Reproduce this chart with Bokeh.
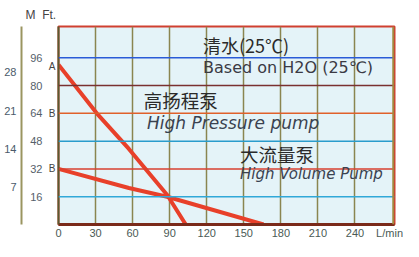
from bokeh.plotting import figure
from bokeh.models import Range1d, LinearAxis, FixedTicker, Label, Span
from bokeh.embed import file_html
from bokeh.resources import INLINE

# ---- data ----
flow_ticks = [0, 30, 60, 90, 120, 150, 180, 210, 240]
unit_tick = 268
ft_ticks = [16, 32, 48, 64, 80, 96]
m_ticks = [7, 14, 21, 28]
curve_start_ticks = [91, 64, 32]
curve_start_labels = ["A", "B", "B"]

hp_flow = [0, 31, 57, 88, 103]          # High Pressure pump (A)
hp_head = [92, 64, 43.5, 17, 0]
hv_flow = [0, 57, 88, 166]              # High Volume pump (B)
hv_head = [32, 21, 16, 0]

band_colors = ["#30a8d8", "#d84030", "#2a9ccc", "#e0602a", "#7a3030", "#2a5bd7"]

FONT = "Liberation Sans"
WIDE = "DejaVu Sans"
CJK = "Noto Sans CJK SC"

p = figure(width=403, height=241, x_range=Range1d(0, 272), y_range=Range1d(0, 114),
           output_backend="svg", toolbar_location=None,
           min_border_left=58, min_border_top=15, min_border_right=9, min_border_bottom=0)
p.background_fill_color = "#e4f3f8"
p.border_fill_color = "white"
p.outline_line_color = "#d04030"
p.outline_line_width = 2

p.title.text = "M\u00a0\u00a0Ft."
p.title.align = "left"
p.title.offset = -33
p.title.text_font = FONT
p.title.text_font_size = "12px"
p.title.text_font_style = "normal"
p.title.text_color = "#444444"

p.extra_y_ranges = {"m": Range1d(0.17, 36.4)}

# x axis
xa = p.xaxis[0]
xa.ticker = FixedTicker(ticks=flow_ticks + [unit_tick])
xa.major_label_overrides = {unit_tick: "L/min"}
xa.major_tick_out = 0
xa.major_tick_in = 0
xa.minor_tick_line_color = None
xa.axis_line_color = "#7a2a1a"
xa.axis_line_width = 3
xa.major_label_standoff = 2
xa.major_label_text_font = FONT
xa.major_label_text_font_size = "11px"
xa.major_label_text_color = "#4a5a55"

def style_y(ax, standoff, color, size="11px"):
    ax.major_tick_out = 0
    ax.major_tick_in = 0
    ax.minor_tick_line_color = None
    ax.major_label_standoff = standoff
    ax.major_label_text_font = FONT
    ax.major_label_text_font_size = size
    ax.major_label_text_color = color

# A / B markers axis (closest to frame)
aa = p.yaxis[0]
aa.ticker = FixedTicker(ticks=curve_start_ticks)
aa.major_label_overrides = {t: s for t, s in zip(curve_start_ticks, curve_start_labels)}
aa.axis_line_color = "#5a5a30"
aa.axis_line_width = 2
style_y(aa, 3, "#444444", "10px")

# Ft axis
fa = LinearAxis(ticker=FixedTicker(ticks=ft_ticks))
fa.major_label_overrides = {t: "\u2002" + str(t) for t in ft_ticks}
fa.axis_line_color = None
style_y(fa, 3, "#55606a")
p.add_layout(fa, "left")

# M axis
ma = LinearAxis(y_range_name="m", ticker=FixedTicker(ticks=m_ticks))
ma.axis_line_color = "#9a9560"
ma.axis_line_width = 2
style_y(ma, 5, "#4a5a6a")
p.add_layout(ma, "left")

# grid
p.xgrid.ticker = FixedTicker(ticks=flow_ticks[1:])
p.xgrid.grid_line_color = "#8a8550"
p.xgrid.grid_line_width = 1.5
p.ygrid.grid_line_color = None
for yv, c in zip(ft_ticks, band_colors):
    p.add_layout(Span(location=yv, dimension="width", line_color=c, line_width=1.5))
p.add_layout(Span(location=271, dimension="height", line_color="#a08a40", line_width=2))

# curves
p.line(hp_flow, hp_head, line_color="#e8402a", line_width=4)
p.line(hv_flow, hv_head, line_color="#e8402a", line_width=4)

# texts
def lab(x, y, t, font=FONT, size="11px", style="normal", color="#333333"):
    p.add_layout(Label(x=x, y=y, text=t, text_font=font, text_font_size=size,
                       text_font_style=style, text_color=color, text_align="left",
                       text_baseline="middle"))

lab(117, 103.4, "清水(25℃)", font=CJK, size="18px", color="#2a2a2a")
lab(117, 90.2, "Based on H2O (25℃)", font=WIDE, size="16px", color="#3a3a44")
lab(69, 71.9, "高扬程泵", font=CJK, size="18.5px", color="#2a2a2a")
lab(71.6, 58.2, "High Pressure pump", font=WIDE, size="17px", style="italic", color="#3a4250")
lab(147, 40.4, "大流量泵", font=CJK, size="18.5px", color="#2a2a2a")
lab(147, 28.9, "High Volume Pump", font=WIDE, size="15px", style="italic", color="#3a4250")

open("out.html", "w").write(file_html(p, INLINE))
